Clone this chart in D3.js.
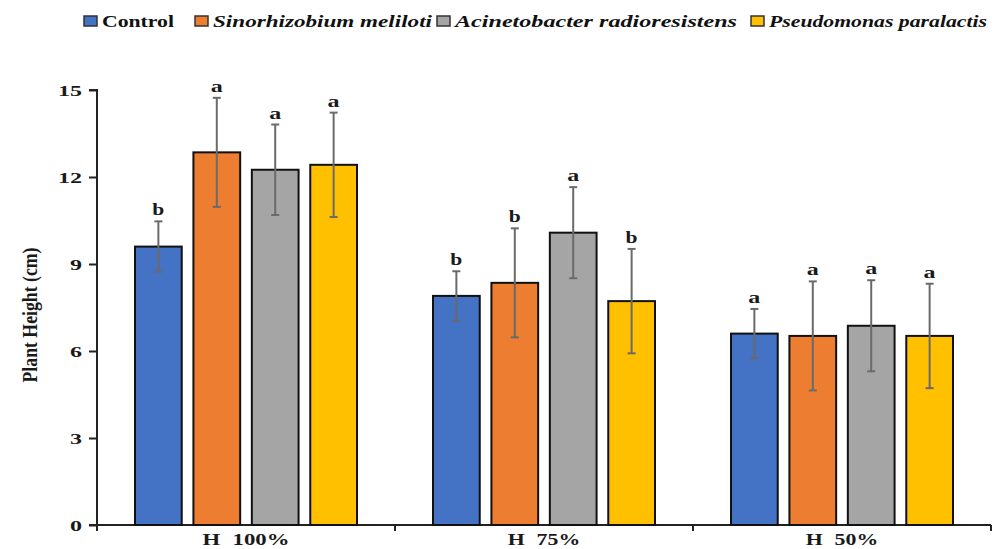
<!DOCTYPE html>
<html><head><meta charset="utf-8">
<script src="https://cdn.jsdelivr.net/npm/d3@7"></script>
<style>body{margin:0;background:#fff}</style>
</head><body>
<svg id="c" width="1001" height="549"></svg>
<script>
const categories = ["H 100%", "H 75%", "H 50%"];
const series = ["Control", "Sinorhizobium meliloti", "Acinetobacter radioresistens", "Pseudomonas paralactis"];
const colors = ["#4472C4", "#ED7D31", "#A5A5A5", "#FFC000"];
const values = [
  [9.6, 12.85, 12.25, 12.42],
  [7.9, 8.35, 10.08, 7.72],
  [6.6, 6.52, 6.87, 6.52]
];
const errors = [
  [0.87, 1.88, 1.56, 1.8],
  [0.85, 1.88, 1.57, 1.8],
  [0.85, 1.88, 1.57, 1.8]
];
const letters = [
  ["b", "a", "a", "a"],
  ["b", "b", "a", "b"],
  ["a", "a", "a", "a"]
];
const yTicks = [0, 3, 6, 9, 12, 15];

const svg = d3.select("#c");
const m = {l: 97, r: 991, t: 90, b: 525};
const y = d3.scaleLinear().domain([0, 15]).range([m.b, m.t]);
const x0 = d3.scaleBand().domain(categories).range([m.l, m.r]).padding(0);
const bw = x0.bandwidth();
const x1 = d3.scaleBand().domain(series).range([38, bw - 38]).paddingInner(0.2).paddingOuter(0);
const font = "'Liberation Serif', 'Times New Roman', serif";
const ink = "#1a1a1a";

// Y axis
const yAxis = d3.axisLeft(y).tickValues(yTicks).tickSize(8).tickPadding(7);
const gy = svg.append("g").attr("transform", `translate(${m.l},0)`).call(yAxis);
gy.select(".domain").attr("stroke", "#222").attr("stroke-width", 2).attr("d", `M-8,${m.t}H0V${m.b}H-8`);
gy.selectAll(".tick line").attr("stroke", "#222").attr("stroke-width", 2);
gy.selectAll(".tick text").attr("font-family", font).attr("font-weight", "bold").attr("font-size", 14)
  .attr("fill", ink).attr("dy", "0.38em")
  .attr("textLength", d => String(d).length * 12).attr("lengthAdjust", "spacingAndGlyphs");

// X axis
const bounds = [m.l, ...categories.map(c => x0(c) + bw)];
const gx = svg.append("g");
gx.append("line").attr("x1", m.l).attr("x2", m.r).attr("y1", m.b).attr("y2", m.b).attr("stroke", "#222").attr("stroke-width", 2);
gx.selectAll(".xt").data(bounds).join("line").attr("x1", d => d).attr("x2", d => d)
  .attr("y1", m.b).attr("y2", m.b + 6).attr("stroke", "#222").attr("stroke-width", 2);
gx.selectAll(".xl").data(categories).join("text")
  .attr("x", d => x0(d) + bw / 2).attr("y", 545)
  .attr("text-anchor", "middle").attr("font-family", font).attr("font-weight", "bold")
  .attr("font-size", 17).attr("fill", ink).attr("word-spacing", 5)
  .attr("textLength", d => d.length * 14.5).attr("lengthAdjust", "spacingAndGlyphs")
  .text(d => d);

// Bars
const groups = svg.append("g").selectAll("g").data(categories).join("g")
  .attr("transform", d => `translate(${x0(d)},0)`);
groups.each(function(cat, ci) {
  const g = d3.select(this);
  series.forEach((s, si) => {
    const v = values[ci][si], e = errors[ci][si];
    const bx = x1(s), w = x1.bandwidth(), cx = bx + w / 2;
    g.append("rect").attr("x", bx).attr("y", y(v)).attr("width", w).attr("height", y(0) - y(v))
      .attr("fill", colors[si]).attr("stroke", "#111").attr("stroke-width", 2);
    g.append("line").attr("x1", cx).attr("x2", cx).attr("y1", y(v + e)).attr("y2", y(v - e))
      .attr("stroke", "#6a6a6a").attr("stroke-width", 2);
    [v + e, v - e].forEach(t => g.append("line").attr("x1", cx - 4).attr("x2", cx + 4)
      .attr("y1", y(t)).attr("y2", y(t)).attr("stroke", "#6a6a6a").attr("stroke-width", 2));
    g.append("text").attr("x", cx).attr("y", y(v + e) - 6).attr("text-anchor", "middle")
      .attr("font-family", font).attr("font-weight", "bold").attr("font-size", 16).attr("fill", ink)
      .attr("textLength", 12).attr("lengthAdjust", "spacingAndGlyphs")
      .text(letters[ci][si]);
  });
});

// Y label
svg.append("text").attr("transform", `translate(37,315) rotate(-90)`)
  .attr("text-anchor", "middle").attr("font-family", font).attr("font-weight", "bold")
  .attr("font-size", 20).attr("fill", ink)
  .attr("textLength", 135).attr("lengthAdjust", "spacingAndGlyphs")
  .text("Plant Height (cm)");

// Legend
const legX = [84, 195, 437, 751];
const legW = [72, 219, 282, 218];
const lg = svg.append("g").selectAll("g").data(series).join("g")
  .attr("transform", (d, i) => `translate(${legX[i]},16)`);
lg.append("rect").attr("width", 13).attr("height", 10).attr("fill", (d, i) => colors[i])
  .attr("stroke", "#333").attr("stroke-width", 1.5);
lg.append("text").attr("x", 18).attr("y", 10.5).attr("font-family", font).attr("font-weight", "bold")
  .attr("font-size", 16).attr("font-style", (d, i) => i === 0 ? "normal" : "italic").attr("fill", "#111")
  .attr("textLength", (d, i) => legW[i]).attr("lengthAdjust", "spacingAndGlyphs")
  .text(d => d);
</script>
</body></html>
